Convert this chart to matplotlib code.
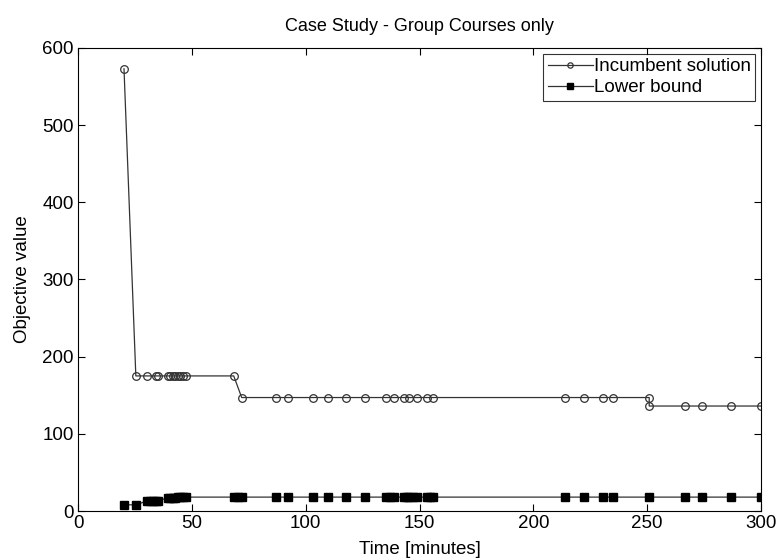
import matplotlib.pyplot as plt
import numpy as np

plt.rcParams['font.family'] = ['Liberation Sans', 'DejaVu Sans']

# time stamps [minutes] of solver log entries
t_inc = [20.2, 25.4, 30.3, 34.2, 35.0, 39.5, 40.6, 41.7, 42.8, 43.9, 45.0, 46.2, 47.4,
         68.4, 71.9, 86.8, 92.1, 103.0, 110.0, 117.5, 125.9, 135.5, 138.6, 143.0,
         145.6, 148.7, 153.5, 156.1, 214.0, 222.4, 230.7, 235.0, 250.9, 250.9,
         266.7, 274.1, 286.8, 300.0]
incumbent = [573, 175, 175, 175, 175, 175, 175, 175, 175, 175, 175, 175, 175,
             175, 147, 147, 147, 147, 147, 147, 147, 147, 147, 147,
             147, 147, 147, 147, 147, 147, 147, 147, 147, 136,
             136, 136, 136, 136]

t_lb = [20.2, 25.4, 30.3, 31.5, 33.0, 34.2, 35.0, 39.5, 40.6, 41.7, 42.8, 43.9, 45.0, 46.2, 47.4,
        68.4, 70.2, 71.9, 86.8, 92.1, 103.0, 110.0, 117.5, 125.9, 135.5, 137.0, 138.6, 143.0,
        144.3, 145.6, 147.2, 148.7, 153.5, 154.8, 156.1, 214.0, 222.4, 230.7, 235.0, 250.9,
        266.7, 274.1, 286.8, 300.0]
lower = [8, 8, 13, 13, 13, 13, 13, 17, 17, 17, 17, 18, 18, 18, 18,
         18, 18, 18, 18, 18, 18, 18, 18, 18, 18, 18, 18, 18,
         18, 18, 18, 18, 18, 18, 18, 18, 18, 18, 18, 18,
         18, 18, 18, 18]

fig = plt.figure(figsize=(7.77, 5.60), dpi=100)
ax = fig.add_axes([0.1004, 0.0875, 0.879, 0.827])

ax.plot(t_inc, incumbent, color='#333333', lw=0.9, marker='o', ms=5.5,
        mfc='none', mec='#333333', mew=0.9, label='Incumbent solution')
ax.plot(t_lb, lower, color='#333333', lw=0.9, marker='s', ms=5.5,
        mfc='black', mec='black', label='Lower bound')

ax.set_xlim(0, 300)
ax.set_ylim(0, 600)
ax.set_xticks(np.arange(0, 301, 50))
ax.set_yticks(np.arange(0, 601, 100))
ax.tick_params(direction='in', top=True, right=True, labelsize=13.5, length=5, width=0.8, pad=3)
for s in ax.spines.values():
    s.set_linewidth(0.8)

ax.set_xlabel('Time [minutes]', fontsize=13.5, labelpad=6)
ax.set_ylabel('Objective value', fontsize=13.5, labelpad=8)
ax.set_title('Case Study - Group Courses only', fontsize=13, pad=12)

leg = ax.legend(loc='upper right', fontsize=13.5, fancybox=False, edgecolor='black',
                handlelength=2.4, handletextpad=0.05, borderaxespad=0.3,
                labelspacing=0.2, borderpad=0.25, markerscale=0.7)
leg.get_frame().set_linewidth(0.8)

fig.savefig('out.png', dpi=100)
